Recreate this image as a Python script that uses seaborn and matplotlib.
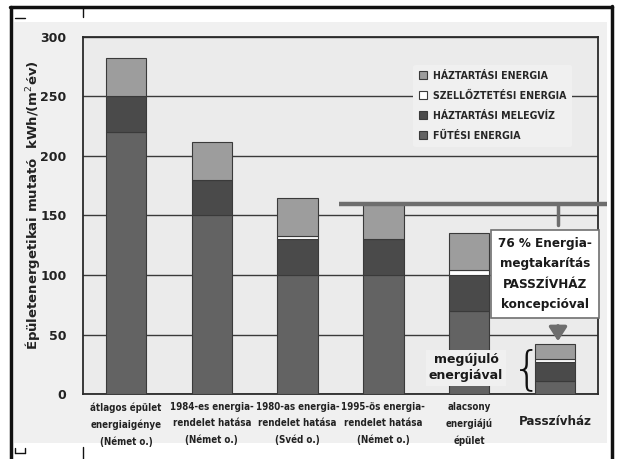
import matplotlib
matplotlib.use("Agg")
import os
import matplotlib.pyplot as plt
from matplotlib.patches import Patch, Rectangle
from matplotlib.lines import Line2D
from matplotlib import font_manager as fm
import seaborn as sns
import numpy as np

# --- data -------------------------------------------------------------
categories = [
    "átlagos épület\nenergiaigénye\n(Német o.)",
    "1984-es energia-\nrendelet hatása\n(Német o.)",
    "1980-as energia-\nrendelet hatása\n(Svéd o.)",
    "1995-ös energia-\nrendelet hatása\n(Német o.)",
    "alacsony\nenergiájú\népület",
    "Passzívház",
]
futes = [220, 150, 100, 100, 70, 11]          # FŰTÉSI ENERGIA
melegviz = [30, 30, 30, 30, 30, 16]           # HÁZTARTÁSI MELEGVÍZ
szellozes = [0, 0, 3, 0, 4, 2]                # SZELLŐZTETÉSI ENERGIA
haztartasi = [32, 32, 32, 30, 31, 13]         # HÁZTARTÁSI ENERGIA
yticks = [0, 50, 100, 150, 200, 250, 300]
ref_level = 160                                # level of the 1995 regulation

layers = [
    ("FŰTÉSI ENERGIA", futes, "#636363"),
    ("HÁZTARTÁSI MELEGVÍZ", melegviz, "#4a4a4a"),
    ("SZELLŐZTETÉSI ENERGIA", szellozes, "#ffffff"),
    ("HÁZTARTÁSI ENERGIA", haztartasi, "#9d9d9d"),
]

# --- fonts: a bold, narrow face for the dense labels -------------------
sns.set_theme(style="white")
plt.rcParams["font.family"] = ["DejaVu Sans"]

_WEIGHTS = {"ultralight": 200, "light": 300, "normal": 400, "regular": 400,
            "book": 400, "medium": 500, "roman": 400, "semibold": 600,
            "demibold": 600, "demi": 600, "bold": 700, "heavy": 800,
            "extra bold": 800, "black": 900}


def _weight(w):
    if isinstance(w, (int, float)):
        return int(w)
    s = str(w).lower()
    return int(s) if s.isdigit() else _WEIGHTS.get(s, 400)


def bold_narrow_font():
    prefs = ["liberation sans narrow", "dejavu sans", "roboto condensed",
             "open sans condensed", "noto sans"]
    found = []
    for f in fm.fontManager.ttflist:
        base = os.path.basename(f.fname).lower()
        narrowish = ("narrow" in f.name.lower() or "condensed" in f.name.lower()
                     or "condensed" in base or "narrow" in base
                     or f.stretch in ("condensed", "semi-condensed",
                                      "extra-condensed"))
        if narrowish and _weight(f.weight) >= 600 and f.style == "normal" \
                and "italic" not in base and "oblique" not in base:
            rank = next((i for i, p in enumerate(prefs)
                         if f.name.lower().startswith(p)), len(prefs))
            found.append((rank, f.fname))
    if found:
        found.sort()
        return fm.FontProperties(fname=found[0][1])
    return fm.FontProperties(family="DejaVu Sans", weight="bold")


NARROW = bold_narrow_font()


def narrow(size):
    fp = NARROW.copy()
    fp.set_size(size)
    return fp


W, H = 621, 459
fig = plt.figure(figsize=(W / 100, H / 100), dpi=100)
fig.patch.set_facecolor("white")


def fx(px):
    return px / W


def fy(py):
    return 1 - py / H


# grey panel behind the chart
panel = Rectangle((fx(14), fy(443)), fx(607) - fx(14), fy(22) - fy(443),
                  transform=fig.transFigure, facecolor="#f0f0f0",
                  edgecolor="none", zorder=-5)
fig.add_artist(panel)
# outer frame
for xs, ys, lw in [([10.5, 10.5], [7, 459], 2.5), ([10, 612], [6.5, 6.5], 2.5),
                   ([611.5, 611.5], [6, 459], 2.5),
                   ([83, 83], [7, 17], 1.0), ([83, 83], [447, 459], 1.0),
                   ([15, 25], [18, 18], 1.0), ([15, 15], [448, 453], 1.0),
                   ([15, 25], [453, 453], 1.0), ([25, 25], [448, 453], 1.0)]:
    fig.add_artist(Line2D([fx(x) for x in xs], [fy(y) for y in ys],
                          transform=fig.transFigure, color="#111111", lw=lw,
                          zorder=-4))

ax = fig.add_axes([fx(83), fy(394), fx(598) - fx(83), fy(37) - fy(394)])
ax.set_zorder(2)
ax.set_facecolor("#ebebeb")

bottom = np.zeros(len(categories))
for name, vals, col in layers:
    sns.barplot(x=categories, y=vals, bottom=bottom, color=col, width=0.47,
                edgecolor="#3a3a3a", linewidth=0.8, saturation=1, ax=ax,
                zorder=3)
    bottom = bottom + np.array(vals)

ax.set_ylim(0, 300)
ax.set_xlim(-0.5, 5.5)
ax.set_yticks(yticks)
ax.set_yticklabels([str(t) for t in yticks], fontsize=9, fontweight="bold",
                   family=["DejaVu Sans"], color="#222222")
ax.yaxis.grid(True, color="#3a3a3a", lw=1.0, zorder=0)
ax.set_axisbelow(True)
for s in ax.spines.values():
    s.set_color("#2a2a2a")
    s.set_linewidth(1.3)
ax.tick_params(axis="y", length=0, pad=12)
ax.tick_params(axis="x", length=0, pad=6)

ax.set_xticks(range(len(categories)))
ax.set_xticklabels(categories, color="#222222", linespacing=1.75,
                   fontproperties=narrow(7))
ax.get_xticklabels()[-1].set_fontproperties(narrow(9.5))
ax.get_xticklabels()[-1].set_y(-0.035)

ax.set_ylabel("Épületenergetikai mutató  kWh/(m$^2$év)", fontsize=9.5,
              fontweight="bold", color="#222222", family=["DejaVu Sans"])
ax.yaxis.set_label_coords(-0.08, 0.53)

# legend
handles = [Patch(facecolor=c, edgecolor="#3a3a3a", lw=0.8, label=n)
           for n, v, c in reversed(layers)]
leg = ax.legend(handles=handles, loc="upper right", bbox_to_anchor=(0.96, 0.937),
                frameon=True, handlelength=0.75, handleheight=0.75,
                handletextpad=0.55, labelspacing=0.95, borderpad=0.55,
                prop=narrow(7.6))
leg.get_frame().set_facecolor("#f0f0f0")
leg.get_frame().set_edgecolor("none")
leg.get_frame().set_alpha(1)
leg.set_zorder(6)


def dx(px):
    return (px - 83) / (515 / 6) - 0.5


def dy(py):
    return (394 - py) / (357 / 300)


# reference level line and the savings note
ax.plot([dx(339), dx(607)], [ref_level, ref_level], color="#6e6e6e", lw=3.2,
        clip_on=False, zorder=5, solid_capstyle="butt")
ax.plot([dx(558), dx(558)], [ref_level, dy(225)], color="#6e6e6e", lw=2.5,
        zorder=5)
ax.text(dx(545), dy(274),
        "76 % Energia-\nmegtakarítás\nPASSZÍVHÁZ\nkoncepcióval",
        ha="center", va="center", fontproperties=narrow(9.6),
        linespacing=1.75, color="#1a1a1a", zorder=7,
        bbox=dict(boxstyle="square,pad=0.5", facecolor="white",
                  edgecolor="#707070", lw=1.2))
ax.annotate("", xy=(dx(558), bottom[-1]), xytext=(dx(558), dy(323)),
            arrowprops=dict(arrowstyle="-|>,head_width=0.45,head_length=0.7",
                            color="#6e6e6e", lw=2.5), zorder=7)

ax.text(dx(466), dy(368), "megújuló\nenergiával", ha="center", va="center",
        fontsize=9, fontweight="bold", family=["DejaVu Sans"], color="#1a1a1a",
        linespacing=1.3, zorder=7,
        bbox=dict(boxstyle="square,pad=0.25", facecolor="#f0f0f0",
                  edgecolor="none"))
ax.text(dx(527), dy(370), "{", ha="center", va="center", fontsize=34,
        family=["DejaVu Sans"], fontweight="light", color="#111111", zorder=7)

ax.set_xlim(-0.5, 5.5)
ax.set_ylim(0, 300)
fig.savefig("out.png", dpi=100)
